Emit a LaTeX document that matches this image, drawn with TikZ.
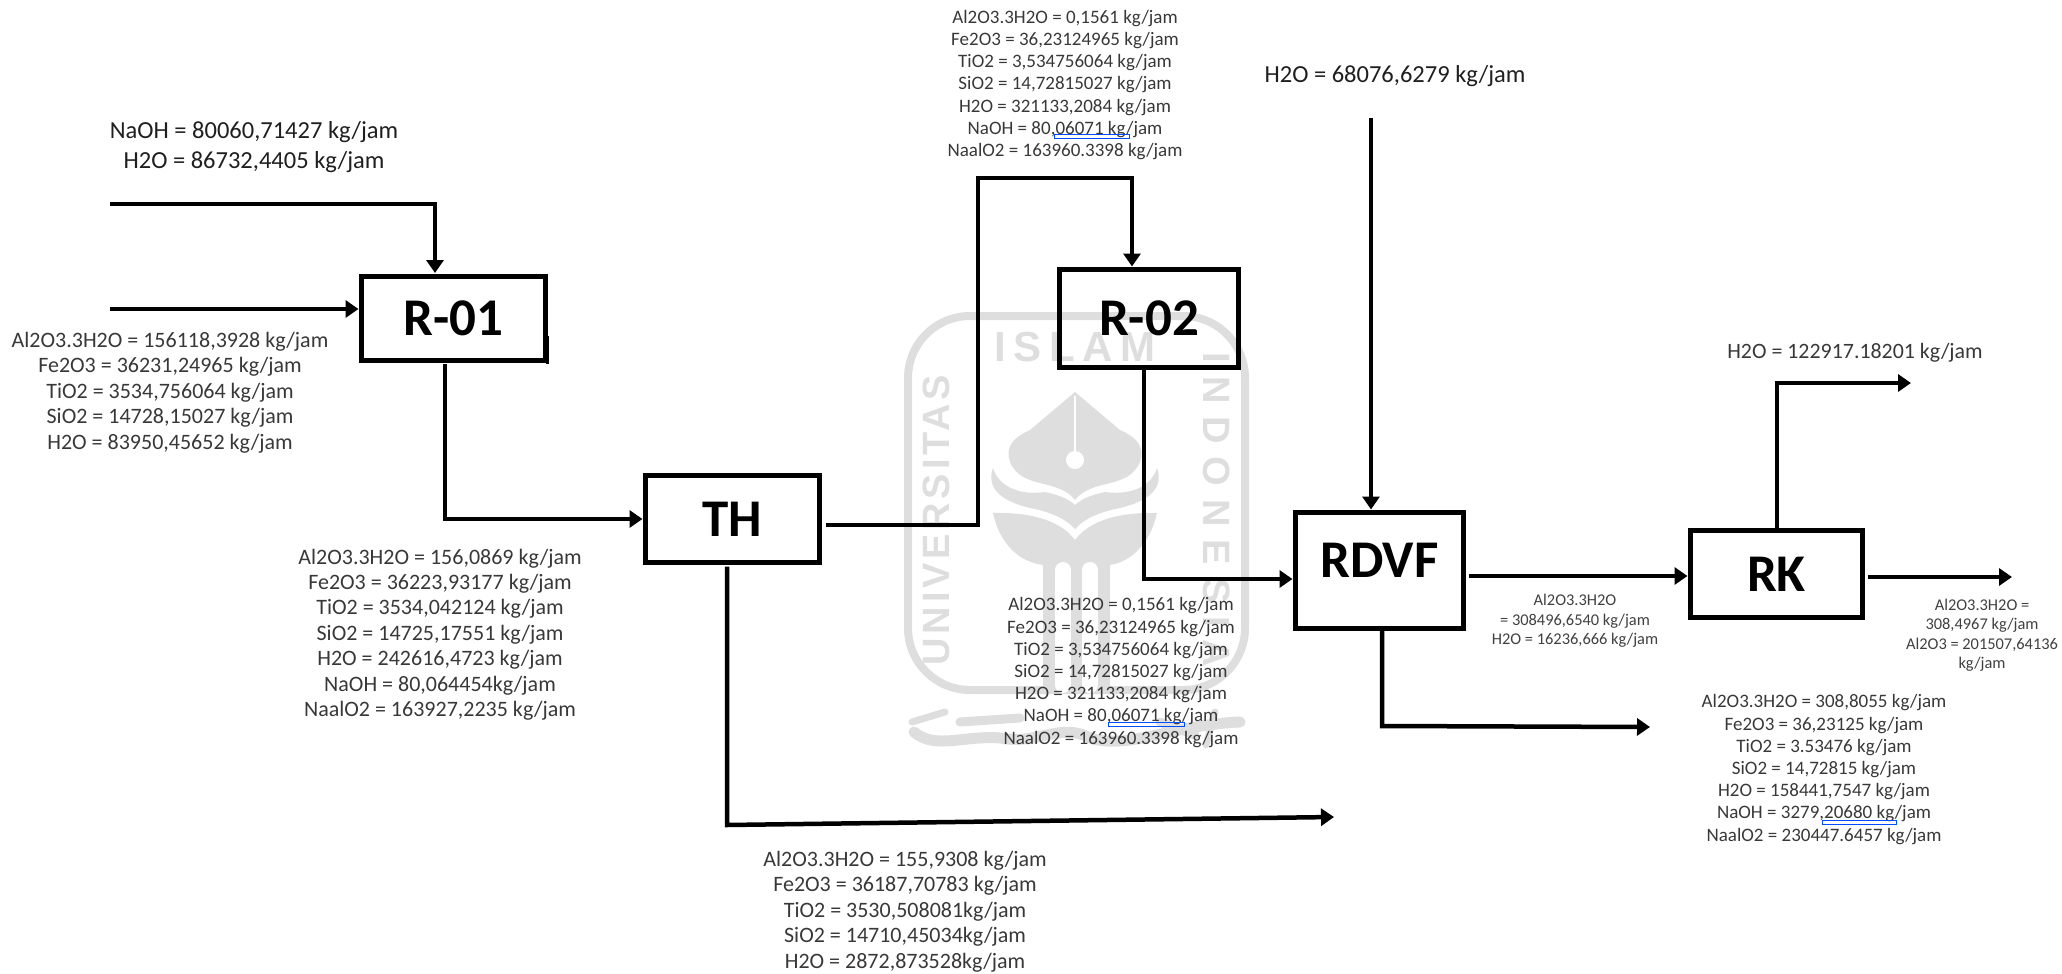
\documentclass[tikz,border=0pt]{standalone}
\usepackage{fontspec}
\setmainfont{Carlito}
\newfontfamily\logofont[LetterSpace=10]{Liberation Sans}
\newfontfamily\logotop[LetterSpace=18]{Liberation Sans}
\newfontfamily\logowide[LetterSpace=34]{Liberation Sans}
\usetikzlibrary{arrows.meta}
\begin{document}
\begin{tikzpicture}[x=1pt,y=-1pt,
  unit/.style={draw=black, line width=5pt, outer sep=0pt, inner sep=0pt, font=\fontsize{53}{53}\selectfont\bfseries},
  stream/.style={align=center, inner sep=0pt, text=black!78, font=\fontsize{#1}{25.4}\selectfont},
  streamsmall/.style={align=center, inner sep=0pt, text=black!78, font=\fontsize{19}{22.2}\selectfont},
  streamtiny/.style={align=center, inner sep=0pt, text=black!75, font=\fontsize{16.4}{19.5}\selectfont},
  flow/.style={draw=black, line width=4.5pt, shorten >=3pt, -{Triangle[length=13pt,width=17pt]}},
  spell/.style={draw=blue!70!cyan, line width=1pt},
  logoline/.style={draw=black!13, line width=8pt},
  logofill/.style={fill=black!13, draw=none},
  logotext/.style={text=black!13, inner sep=0pt, font=\fontsize{38}{38}\logofont\bfseries}]
\useasboundingbox (0,0) rectangle (2062,974);

\draw [logoline, rounded corners=62pt] (908,690) -- (908,316) -- (1245,316) -- (1245,690) -- cycle;
\node [logotext, font=\fontsize{42}{42}\logotop\bfseries] (logoupper) at (1075,347) {ISLAM};
\node [logotext, rotate=90] (logoleft) at (936,520) {UNIVERSITAS};
\node [logotext, rotate=-90, font=\fontsize{38}{38}\logowide\bfseries] (logoright) at (1217,510) {INDONESIA};
\fill [logofill] (1075,392) -- (1030,430) .. controls (1012,438) and (1005,448) .. (1010,462) .. controls (1022,490) and (1058,478) .. (1075,500) .. controls (1092,478) and (1128,490) .. (1140,462) .. controls (1145,448) and (1138,438) .. (1120,430) -- cycle;
\draw [white, line width=2pt] (1075,396) -- (1075,452);
\fill [white] (1075,460) circle (9);
\fill [logofill] (993,468) .. controls (985,490) and (1005,502) .. (1030,508) .. controls (1050,512) and (1065,518) .. (1075,529) .. controls (1085,518) and (1100,512) .. (1120,508) .. controls (1145,502) and (1165,490) .. (1157,468) .. controls (1150,490) and (1125,495) .. (1105,492) .. controls (1090,495) and (1080,500) .. (1075,505) .. controls (1070,500) and (1060,495) .. (1045,492) .. controls (1025,495) and (1000,490) .. (993,468) -- cycle;
\fill [logofill] (993,513) .. controls (1030,512) and (1060,520) .. (1075,540) .. controls (1090,520) and (1120,512) .. (1157,513) .. controls (1150,545) and (1130,562) .. (1110,565) -- (1110,690) -- (1043,690) -- (1043,565) .. controls (1020,562) and (1000,545) .. (993,513) -- cycle;
\draw [white, line width=16pt, line cap=round] (1063,570) -- (1063,685);
\draw [white, line width=16pt, line cap=round] (1090,570) -- (1090,685);
\draw [logoline, line width=11pt, line cap=round] (914,732) .. controls (935,750) and (965,735) .. (1000,738) .. controls (1040,745) and (1060,722) .. (1090,738) .. controls (1130,750) and (1170,725) .. (1240,722);
\draw [logoline, line width=7pt, line cap=round] (912,722) -- (945,712);
\draw [logoline, line width=9pt, line cap=round] (960,722) -- (1020,718);
\draw [logoline, line width=9pt, line cap=round] (1160,722) -- (1195,735);
\draw [logoline, line width=7pt, line cap=round] (1215,712) -- (1206,745);

\node [unit, minimum width=184pt, minimum height=84pt] (R01) at (453.5,318) {R-01};
\node [unit, minimum width=174pt, minimum height=87pt] (TH) at (732.5,519) {TH};
\node [unit, minimum width=179pt, minimum height=98pt] (R02) at (1149,318.5) {R-02};
\node [unit, minimum width=168pt, minimum height=116pt, text depth=20pt] (RDVF) at (1379.5,570.5) {RDVF};
\node [unit, minimum width=172pt, minimum height=87pt] (RK) at (1776.5,574) {RK};

\node [stream=24.5, font=\fontsize{24.5}{30}\selectfont, text=black!88] (naohfeed) at (254,147) {NaOH = 80060,71427 kg/jam\\H2O = 86732,4405 kg/jam};
\node [stream=22] (bauxite) at (170,392.5) {Al2O3.3H2O = 156118,3928 kg/jam\\Fe2O3 = 36231,24965 kg/jam\\TiO2 = 3534,756064 kg/jam\\SiO2 = 14728,15027 kg/jam\\H2O = 83950,45652 kg/jam};
\node [stream=22] (slurry) at (440,634.5) {Al2O3.3H2O = 156,0869 kg/jam\\Fe2O3 = 36223,93177 kg/jam\\TiO2 = 3534,042124 kg/jam\\SiO2 = 14725,17551 kg/jam\\H2O = 242616,4723 kg/jam\\NaOH = 80,064454kg/jam\\NaalO2 = 163927,2235 kg/jam};
\node [stream=22] (mud) at (905,911.5) {Al2O3.3H2O = 155,9308 kg/jam\\Fe2O3 = 36187,70783 kg/jam\\TiO2 = 3530,508081kg/jam\\SiO2 = 14710,45034kg/jam\\H2O = 2872,873528kg/jam};
\node [streamsmall] (clear) at (1065,85) {Al2O3.3H2O = 0,1561 kg/jam\\Fe2O3 = 36,23124965 kg/jam\\TiO2 = 3,534756064 kg/jam\\SiO2 = 14,72815027 kg/jam\\H2O = 321133,2084 kg/jam\\NaOH = 80,06071 kg/jam\\NaalO2 = 163960.3398 kg/jam};
\node [streamsmall] (seeded) at (1121,672.5) {Al2O3.3H2O = 0,1561 kg/jam\\Fe2O3 = 36,23124965 kg/jam\\TiO2 = 3,534756064 kg/jam\\SiO2 = 14,72815027 kg/jam\\H2O = 321133,2084 kg/jam\\NaOH = 80,06071 kg/jam\\NaalO2 = 163960.3398 kg/jam};
\node [stream=24.5, font=\fontsize{24.5}{30}\selectfont, text=black!88] (wash) at (1395,76) {H2O = 68076,6279 kg/jam};
\node [stream=21.9] (vapor) at (1855,353) {H2O = 122917.18201 kg/jam};
\node [streamtiny] (cake) at (1575,621) {Al2O3.3H2O\\= 308496,6540 kg/jam\\H2O = 16236,666 kg/jam};
\node [streamtiny] (alumina) at (1982,635) {Al2O3.3H2O =\\308,4967 kg/jam\\Al2O3 = 201507,64136\\kg/jam};
\node [streamsmall] (filtrate) at (1824,769.5) {Al2O3.3H2O = 308,8055 kg/jam\\Fe2O3 = 36,23125 kg/jam\\TiO2 = 3.53476 kg/jam\\SiO2 = 14,72815 kg/jam\\H2O = 158441,7547 kg/jam\\NaOH = 3279,20680 kg/jam\\NaalO2 = 230447.6457 kg/jam};

\draw [spell] (1054,134) rectangle (1129,138);
\draw [spell] (1108,722) rectangle (1184,726);
\draw [spell] (1822,820) rectangle (1896,824);

\coordinate (feedtop) at (110,204);
\coordinate (bendA) at (435,204);
\coordinate (feedleft) at (110,309);
\coordinate (bendB) at (445,519);
\coordinate (bendC) at (978,525);
\coordinate (bendD) at (978,178);
\coordinate (bendE) at (1132,178);
\coordinate (bendF) at (1144,579);
\coordinate (washin) at (1371,118);
\coordinate (linkG) at (1600,576);
\coordinate (rkout) at (2012,577);
\coordinate (bendH) at (1777,383);
\coordinate (vaporout) at (1911,383);
\coordinate (bendI) at (1382,726);
\coordinate (filtout) at (1650,727);
\coordinate (bendJ) at (727,825);
\coordinate (mudout) at (1334,817);

\draw [flow] (feedtop) -- (bendA) -- (bendA |- R01.north);
\draw [flow] (feedleft) -- (R01.west |- feedleft);
\draw [flow, shorten <=4pt] (bendB |- R01.south) -- (bendB) -- (TH.west);
\draw [flow, shorten <=6pt] (TH.east |- bendC) -- (bendC) -- (bendD) -- (bendE) -- (bendE |- R02.north);
\draw [flow] (bendF |- R02.south) -- (bendF) -- (RDVF.west |- bendF);
\draw [flow] (washin) -- (washin |- RDVF.north);
\draw [flow, shorten <=5pt] (RDVF.east |- linkG) -- (RK.west |- linkG);
\draw [flow, shorten <=5pt, shorten >=0pt] (RK.east |- rkout) -- (rkout);
\draw [flow, shorten >=0pt] (bendH |- RK.north) -- (bendH) -- (vaporout);
\draw [flow, shorten >=0pt] (bendI |- RDVF.south) -- (bendI) -- (filtout);
\draw [flow, shorten <=4pt, shorten >=0pt] (bendJ |- TH.south) -- (bendJ) -- (mudout);
\draw [draw=black, line width=3pt] (R01.south east) ++(1.5,4) -- ++(0,-28);
\end{tikzpicture}
\end{document}
